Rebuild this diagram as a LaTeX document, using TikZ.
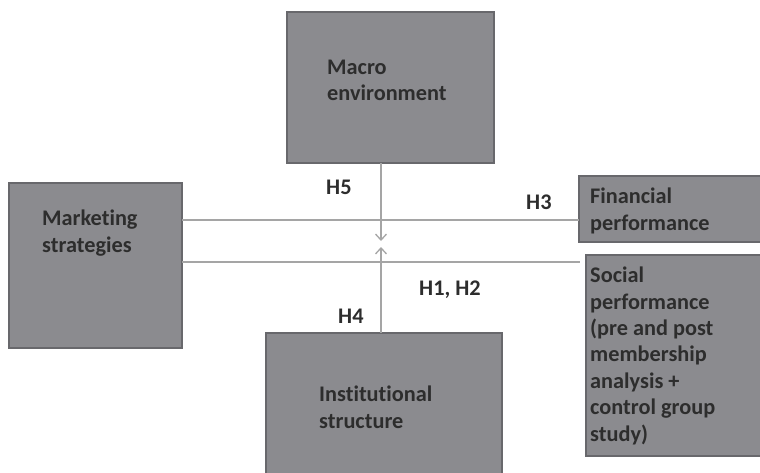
\documentclass[tikz,border=0pt]{standalone}
\usepackage{fontspec}
\setmainfont{Carlito}[Ligatures=NoCommon]
\usetikzlibrary{arrows.meta}
\definecolor{boxfill}{RGB}{139,139,143}
\definecolor{boxedge}{RGB}{104,104,108}
\definecolor{ink}{RGB}{45,45,45}
\definecolor{wire}{RGB}{165,165,165}
\tikzset{
  block/.style={draw=boxedge, fill=boxfill, line width=1.6pt},
  % multi-line labels are anchored at the baseline of their last line
  blocktext/.style={anchor=base west, align=left, inner sep=0pt, text=ink,
    font=\bfseries\fontsize{22.3}{26.4}\selectfont},
  hyp/.style={anchor=base west, inner sep=0pt, text=ink,
    font=\bfseries\fontsize{22.3}{26.4}\selectfont},
  link/.style={draw=wire, line width=1.5pt},
  arrowlink/.style={link, -{Straight Barb[length=6pt, width=11pt, line width=1.3pt]}}
}
\begin{document}
\begin{tikzpicture}[x=1pt, y=-1pt]
  \clip (0,0) rectangle (760,473);
  \fill[white] (0,0) rectangle (760,473);

  % boxes
  \draw[block] (287,12) rectangle (494,163);
  \coordinate (macroS) at (381,163);
  \draw[block] (9,183) rectangle (182,348);
  \draw[block] (579,176) rectangle (775,242);
  \draw[block] (586,255) rectangle (775,456);
  \draw[block] (266,333) rectangle (502,490);
  \coordinate (instN) at (381,333);

  % box labels
  \node[blocktext] (macro) at (327,101) {Macro\\environment};
  \node[blocktext] (mkt) at (42,252) {Marketing\\strategies};
  \node[blocktext] (fin) at (590,230) {Financial\\performance};
  \node[blocktext] (soc) at (590,441) {Social\\performance\\(pre and post\\membership\\analysis +\\control group\\study)};
  \node[blocktext] (inst) at (319,428) {Institutional\\structure};

  % connectors
  \coordinate (mktA) at (182,220);
  \coordinate (finW) at (579,220);
  \coordinate (mktB) at (182,262);
  \coordinate (socEnd) at (580,262);
  \coordinate (tipTop) at (381,241);
  \coordinate (tipBot) at (381,247);
  \draw[link] (mktA) -- (finW);
  \draw[link] (mktB) -- (socEnd);
  \draw[arrowlink] (macroS) -- (tipTop);
  \draw[arrowlink] (instN) -- (tipBot);

  % hypothesis labels
  \node[hyp] (h5) at (326,195) {H5};
  \node[hyp] (h3) at (526,210) {H3};
  \node[hyp] (h12) at (419,295) {H1, H2};
  \node[hyp] (h4) at (338,323) {H4};
\end{tikzpicture}
\end{document}
